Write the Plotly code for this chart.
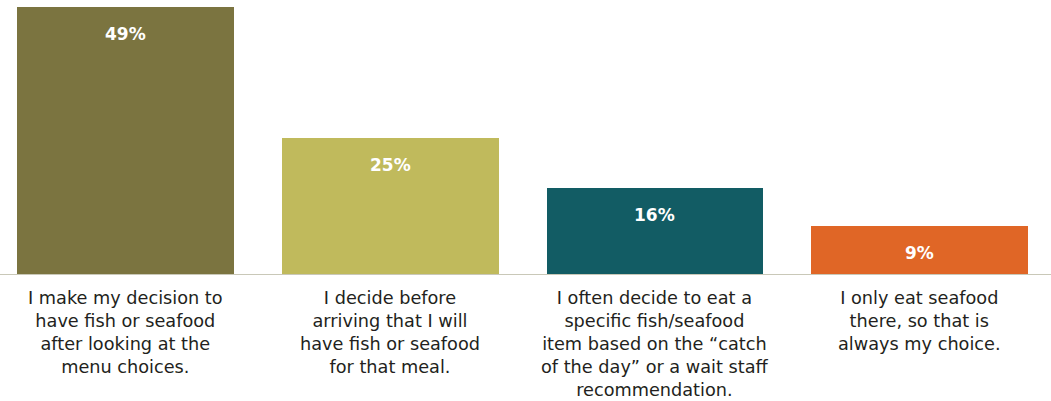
import plotly.graph_objects as go

categories = [
    "I make my decision to<br>have fish or seafood<br>after looking at the<br>menu choices.",
    "I decide before<br>arriving that I will<br>have fish or seafood<br>for that meal.",
    "I often decide to eat a<br>specific fish/seafood<br>item based on the “catch<br>of the day” or a wait staff<br>recommendation.",
    "I only eat seafood<br>there, so that is<br>always my choice.",
]
values = [49, 25, 16, 9]
value_labels = ["49%", "25%", "16%", "9%"]
colors = ["#7B7440", "#C0BA5C", "#125C64", "#E06626"]

x = list(range(len(values)))

fig = go.Figure()
fig.add_trace(go.Bar(
    x=x, y=values, marker=dict(color=colors, line=dict(width=0)),
    width=0.819, hoverinfo="skip",
))

annotations = []
for i, (v, lab) in enumerate(zip(values, value_labels)):
    annotations.append(dict(
        x=i, y=v, xref="x", yref="y", text=f"<b>{lab}</b>", showarrow=False,
        yanchor="middle", yshift=-27,
        font=dict(family="DejaVu Sans", size=17, color="white"),
    ))
for i, c in enumerate(categories):
    annotations.append(dict(
        x=i, y=-11 / 275, xref="x", yref="paper", text=c, showarrow=False,
        yanchor="top", align="center",
        font=dict(family="DejaVu Sans", size=17.7, color="#231F20"),
    ))

fig.update_layout(
    width=1051, height=401,
    margin=dict(l=0, r=0, t=0, b=126),
    paper_bgcolor="white", plot_bgcolor="white",
    showlegend=False,
    bargap=0,
    xaxis=dict(range=[-0.4736, 3.496], showticklabels=False, showgrid=False,
               zeroline=False, showline=False, fixedrange=True),
    yaxis=dict(range=[0, 50.32], showticklabels=False, showgrid=False,
               zeroline=False, showline=False, fixedrange=True),
    annotations=annotations,
    shapes=[dict(type="line", xref="paper", yref="y", x0=0, x1=1, y0=0, y1=0,
                 line=dict(color="#C9C8B8", width=2))],
)

fig.write_html("out.html")
